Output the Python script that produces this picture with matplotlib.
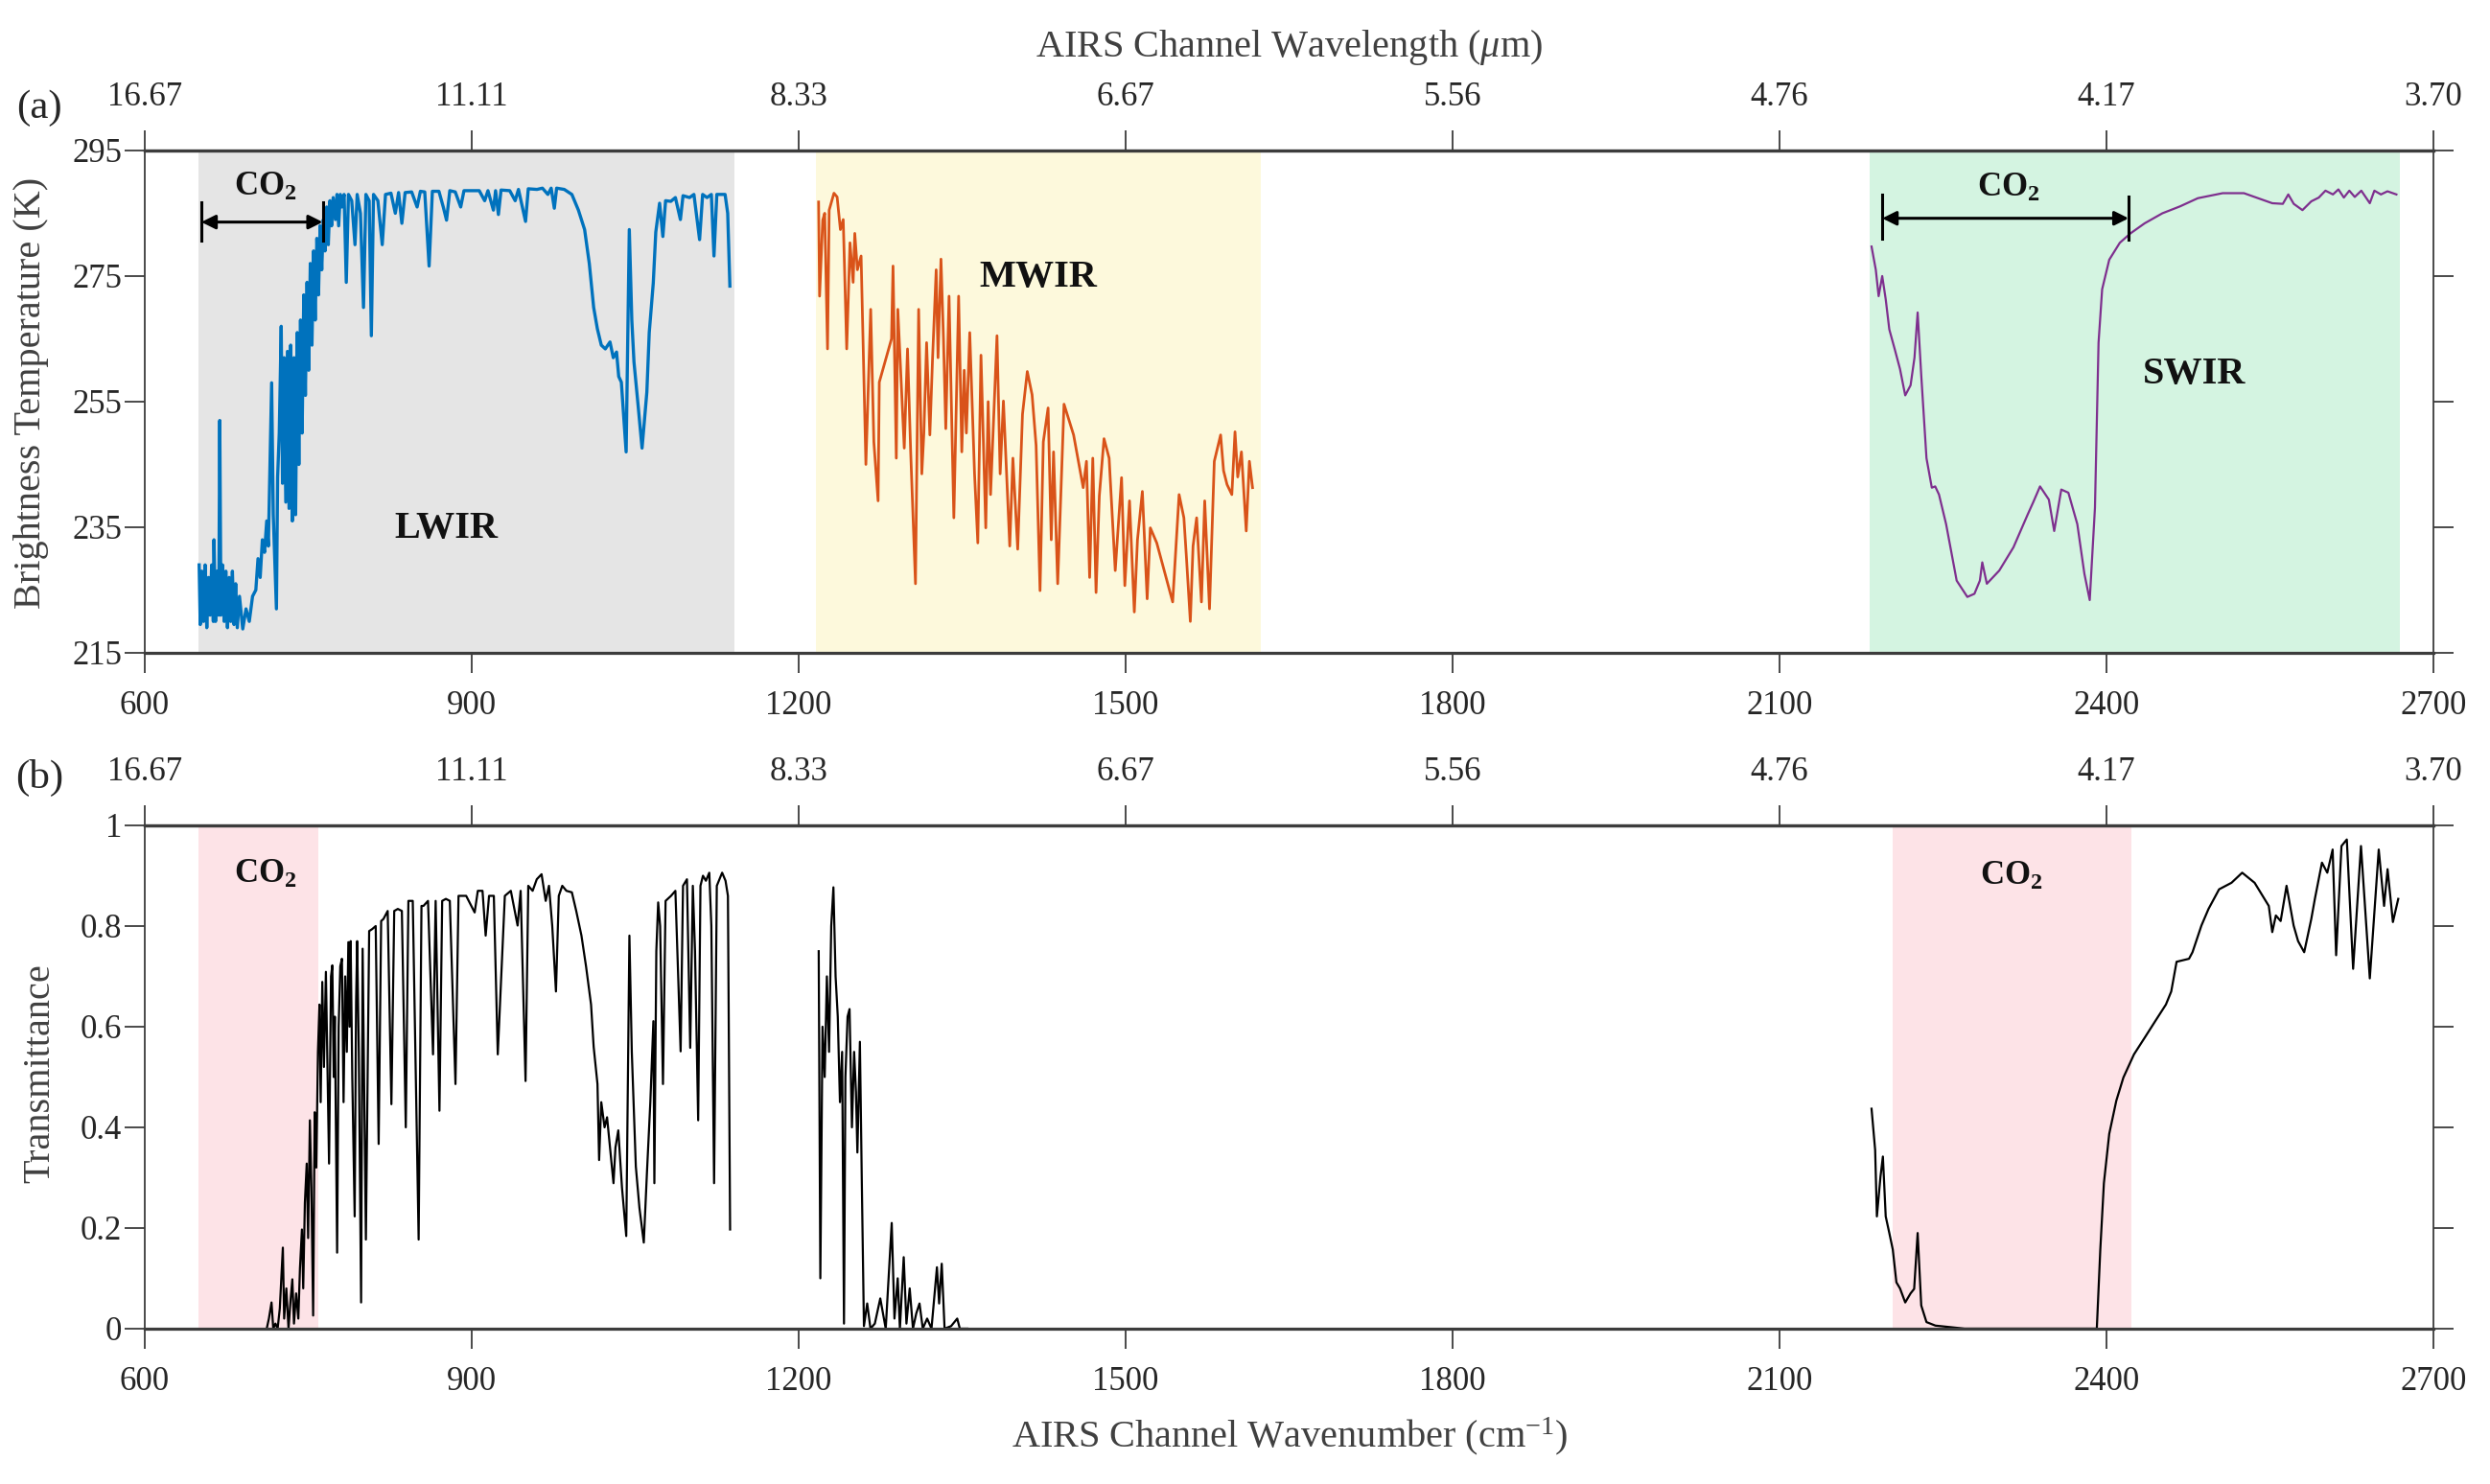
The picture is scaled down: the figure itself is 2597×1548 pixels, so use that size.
import matplotlib.pyplot as plt
import numpy as np

plt.rcParams['font.family'] = ['Liberation Serif', 'DejaVu Serif']
plt.rcParams['mathtext.fontset'] = 'custom'
plt.rcParams['mathtext.rm'] = 'Liberation Serif'
plt.rcParams['mathtext.it'] = 'Liberation Serif:italic'
plt.rcParams['mathtext.bf'] = 'Liberation Serif:bold'

# ---- data ----
# (a) brightness temperature, LWIR / MWIR / SWIR
lwir_wn = [650, 651, 652.5, 654, 655.5, 657, 658.5, 660, 661.5, 663, 663.6, 665, 666.5, 668, 668.9, 670,
           671.5, 673, 674.5, 676, 677.5, 679, 680.5, 682, 683.5, 685, 687, 690, 693, 696, 699, 702, 704,
           706, 708, 710, 712, 713.5, 716.5, 718, 720.9, 722, 723.5, 725.3, 726.5, 728, 729.5, 731, 732.5,
           734, 735.5, 737, 738.5, 740, 741.5, 743, 744.5, 746, 747.5, 749, 750.5, 752, 753.5, 755, 756.5,
           758, 759.5, 761, 762.5, 764, 765.5, 767, 768.5, 770, 771.5, 773, 775, 776.5, 778, 779.5, 781,
           783, 785, 787, 790, 793, 795, 798, 800.8, 803, 806, 808, 810, 814, 818, 821, 826, 830, 833,
           836, 839, 845, 850, 853, 857, 861, 864, 870, 874, 877, 880, 885, 890, 893, 900, 907, 912, 915,
           920, 922, 924.6, 927, 935, 940, 943, 949.5, 952, 960, 965, 970, 973, 975.9, 978, 985, 992, 998,
           1003.7, 1008, 1012, 1015.4, 1019, 1022.7, 1027, 1030, 1033, 1035, 1037.4, 1041.8, 1044.7, 1047,
           1049, 1053, 1056.4, 1060.8, 1063, 1066.7, 1069, 1072.5, 1075.5, 1078, 1082.8, 1087, 1091.6, 1094,
           1100, 1104, 1109.2, 1112, 1116, 1120, 1122.4, 1125, 1130, 1132.6, 1135, 1137]
lwir_bt = [229, 219.5, 228, 220, 229, 219, 227, 221, 229, 220, 233, 220, 228, 221, 252, 221,
           229, 220, 228, 219, 227, 220, 228, 219.5, 226, 219, 224, 218.8, 222, 220, 224, 225, 230,
           227, 233, 231, 236, 232, 258, 237, 222, 243, 250, 267, 242, 262, 239, 263, 238,
           264, 236, 262, 237, 266, 245, 268, 250, 272, 256, 274, 260, 277, 264, 279, 268,
           281, 272, 283, 276, 284, 279, 286, 280, 287, 283, 287.5, 284, 288, 283, 288, 286,
           288, 274, 288, 287, 280, 288, 285, 270, 288, 287, 265.5, 288, 287, 280, 288, 288.2, 285, 288.3,
           283.4, 288.3, 288.4, 286, 288.5, 288.4, 276.6, 288.5, 288.5, 286, 283.9, 288.6, 288.4, 286, 288.6, 288.6, 288.6, 287, 288.6,
           285.5, 288.6, 284.8, 288.7, 288.6, 287, 288.8, 283.7, 288.9, 288.8, 289, 288, 289, 285.8, 289, 288.8, 288, 285.5,
           282.4, 277, 270, 266.6, 264, 263.4, 264.5, 262, 262.9, 259, 258.1, 247, 282.4, 268,
           261.3, 254, 247.6, 256.5, 266, 273.9, 282, 286.6, 281.3, 287, 286.9, 287.5, 284, 287.8,
           287.5, 288, 280.8, 288, 287.5, 288, 278.2, 288, 288, 288, 285, 273.4]

mwir_wn = [1218.4, 1219.3, 1222.2, 1224, 1226.6, 1228.1, 1232.5, 1235.4, 1238.4, 1241, 1244.2, 1247.2,
           1250.1, 1251.6, 1254, 1257.4, 1261.8, 1266.2, 1269.1, 1273, 1274.1, 1285.3, 1286.7, 1289.7,
           1291.1, 1297, 1300, 1302.9, 1307.3, 1310.2, 1313.1, 1315, 1317.5, 1320.5, 1323, 1326.3, 1328,
           1330.7, 1333, 1335.1, 1338.1, 1342.5, 1346.9, 1349.8, 1352, 1354, 1357.1, 1361.5, 1364.5, 1367.4,
           1371.8, 1374, 1376.2, 1382.1, 1385, 1388, 1393.8, 1396.7, 1401.1, 1405.5, 1409.9, 1414.3, 1418,
           1421.6, 1424.6, 1429, 1431.9, 1434, 1437.8, 1443.6, 1452.4, 1461.2, 1464.2, 1467.1, 1470, 1473,
           1476, 1480.3, 1485, 1490.6, 1496.4, 1499.4, 1503.7, 1508.1, 1511, 1515.5, 1519.9, 1522.8, 1528.7,
           1543.3, 1549.2, 1553.6, 1556, 1559.5, 1562, 1565.3, 1569.7, 1572.7, 1577.1, 1581.5, 1587.3, 1590,
           1593.2, 1597.6, 1600.5, 1603, 1606.4, 1610.8, 1613.7, 1616.6]
mwir_bt = [286.8, 271.8, 283.9, 285, 263.4, 285.5, 288.2, 287.6, 282.4, 284, 263.4, 280.3,
           274.0, 281.8, 276, 278.2, 245.0, 269.7, 248.6, 239.2, 258.1, 265.0, 276.6, 246.0,
           269.7, 247.6, 263.4, 247.0, 226.0, 269.7, 243.5, 250, 264.4, 249.7, 262, 276.0, 262,
           277.7, 265, 250.7, 271.8, 236.5, 271.8, 247.0, 260, 250, 266.0, 243.5, 232.5, 262.4,
           234.9, 255, 240.2, 265.5, 243.5, 255.1, 232.0, 246.0, 231.5, 253.0, 259.8, 256.1, 248,
           224.9, 248.6, 254.0, 233.0, 247, 226.0, 254.6, 249.7, 241.3, 245.5, 227.0, 246.0, 224.6,
           240, 249.1, 246, 228.1, 242.9, 225.7, 239.2, 221.5, 233, 240.7, 223.6, 234.9, 232.5,
           223.1, 240.2, 236.5, 230, 220.0, 232, 236.5, 223.1, 239.2, 222.0, 245.5, 249.7, 244,
           241.8, 240.2, 250.2, 243, 247.0, 234.4, 245.5, 241.3]

swir_wn = [2184.6, 2188.5, 2191.1, 2194.4, 2197.6, 2200.9, 2205.8, 2210.7, 2215.5, 2220.4, 2224, 2226.9,
           2230.2, 2235.0, 2239.9, 2243, 2246.5, 2253.0, 2262.7, 2272.5, 2279.0, 2284, 2286.2, 2290.4,
           2301.8, 2314.8, 2327.8, 2333, 2339.2, 2347.3, 2352.2, 2358.7, 2365.2, 2373.4, 2379.9, 2384.8,
           2389.6, 2392.9, 2396.2, 2402.7, 2412.4, 2422.2, 2435.2, 2451.5, 2467.7, 2484.0, 2506.8, 2526.3,
           2539.3, 2552.3, 2562, 2567.0, 2572, 2580.0, 2588.1, 2595, 2601.1, 2608, 2613, 2618, 2623, 2628,
           2634, 2641.8, 2646, 2652, 2658, 2666.2]
swir_bt = [279.7, 276.0, 271.8, 275.0, 271.3, 266.5, 263.4, 260.2, 256.0, 257.6, 262, 269.2,
           259.2, 246.0, 241.3, 241.5, 240.2, 235.5, 226.5, 223.9, 224.4, 226.5, 229.4, 226.0,
           228.1, 231.8, 237.0, 239, 241.5, 239.4, 234.4, 241.0, 240.5, 235.5, 227.6, 223.4,
           238.1, 264.4, 272.9, 277.6, 280.3, 281.8, 283.4, 285.0, 286.1, 287.4, 288.2, 288.2,
           287.4, 286.6, 286.5, 288.0, 286.5, 285.5, 286.9, 287.5, 288.6, 288.0, 288.8, 287.5, 288.6, 287.6,
           288.6, 286.6, 288.6, 288.0, 288.5, 288.0]

# (b) transmittance, three pieces
tau_lw_wn = [712, 714, 716.4, 718, 720, 722, 724, 726.8, 728, 730, 732, 734, 735.5, 737, 739, 741, 742.5,
             744.3, 745.5, 747, 748.7, 750, 751.6, 753, 754.6, 756, 757.5, 759, 760.4, 761.5, 763, 764.5,
             766.3, 767.5, 769.2, 771, 772.2, 773.5, 774.5, 776.6, 778, 779.5, 781, 782.5, 784, 785.5, 786.9,
             788, 789, 790.5, 792.7, 794, 795, 796.5, 798.6, 800, 803, 806, 808.8, 812, 814.7, 817, 819.1,
             823, 826.4, 829, 832.3, 836, 839.6, 842, 846, 848, 851.4, 854, 855.8, 860, 864.6, 867, 870.5,
             873, 876.4, 880, 885.2, 888, 895, 902.8, 905.7, 910, 912.9, 916, 920.4, 924, 930.5, 936, 942.2,
             945, 949.5, 952, 956, 959.8, 964.2, 968, 971, 974, 977.4, 980, 983.2, 987, 992, 996, 1000.8,
             1005, 1009.6, 1012, 1015.5, 1017, 1019, 1022, 1024.3, 1027, 1030.2, 1032, 1034.6, 1038, 1041.9,
             1044.8, 1047, 1050.7, 1054, 1058, 1061, 1064, 1066.8, 1067.7, 1069.5, 1071.2, 1073, 1075.6, 1078,
             1083, 1087, 1091.8, 1094, 1097.6, 1100.6, 1103, 1105, 1107.9, 1110, 1112.3, 1115, 1118.1, 1120,
             1122.5, 1125, 1129.9, 1133, 1135.2, 1137.2]
tau_lw = [0.0, 0.02, 0.052, 0.0, 0.01, 0.0, 0.04, 0.161, 0.02, 0.08, 0.0, 0.06, 0.098, 0.01, 0.07, 0.02, 0.12,
          0.197, 0.08, 0.25, 0.328, 0.18, 0.414, 0.28, 0.026, 0.43, 0.32, 0.55, 0.644, 0.45, 0.689, 0.52,
          0.709, 0.55, 0.328, 0.70, 0.722, 0.50, 0.62, 0.151, 0.60, 0.72, 0.735, 0.45, 0.70, 0.55, 0.768,
          0.60, 0.77, 0.50, 0.223, 0.65, 0.77, 0.55, 0.052, 0.755, 0.177, 0.79, 0.794, 0.80, 0.367, 0.81, 0.814,
          0.83, 0.446, 0.83, 0.834, 0.83, 0.400, 0.85, 0.85, 0.60, 0.177, 0.84, 0.840, 0.85, 0.545, 0.85, 0.433,
          0.85, 0.854, 0.85, 0.486, 0.86, 0.86, 0.827, 0.870, 0.87, 0.781, 0.86, 0.860, 0.545, 0.860, 0.87, 0.801,
          0.87, 0.492, 0.88, 0.87, 0.893, 0.903, 0.85, 0.88, 0.80, 0.670, 0.86, 0.880, 0.87, 0.867, 0.83, 0.781,
          0.72, 0.644, 0.56, 0.486, 0.335, 0.45, 0.40, 0.420, 0.36, 0.289, 0.36, 0.394, 0.28, 0.184,
          0.781, 0.55, 0.322, 0.24, 0.171, 0.315, 0.45, 0.611, 0.289, 0.75, 0.847, 0.80, 0.486, 0.85,
          0.860, 0.87, 0.551, 0.88, 0.893, 0.558, 0.88, 0.75, 0.414, 0.88, 0.900, 0.89, 0.906, 0.80,
          0.289, 0.88, 0.906, 0.89, 0.860, 0.197]

tau_mw_wn = [1218.5, 1220, 1222, 1224, 1226, 1228, 1230, 1232, 1234, 1236, 1238, 1240, 1241.7, 1243, 1245,
             1246.8, 1249, 1251, 1252.7, 1254, 1256.3, 1258, 1260, 1263, 1266, 1270, 1275, 1280, 1285.5, 1288,
             1291, 1293, 1296.5, 1299, 1302, 1305, 1308, 1311, 1314, 1318, 1322, 1327, 1329, 1331.4, 1334,
             1340, 1345.6, 1348, 1355]
tau_mw = [0.75, 0.10, 0.60, 0.50, 0.70, 0.55, 0.80, 0.877, 0.70, 0.62, 0.45, 0.55, 0.01, 0.50, 0.62,
          0.635, 0.40, 0.55, 0.47, 0.35, 0.57, 0.30, 0.005, 0.05, 0.0, 0.01, 0.06, 0.0, 0.21, 0.02,
          0.10, 0.0, 0.142, 0.01, 0.08, 0.0, 0.03, 0.05, 0.0, 0.02, 0.0, 0.122, 0.05, 0.129, 0.0,
          0.005, 0.02, 0.0, 0.0]

tau_sw_wn = [2184.6, 2187.9, 2189.5, 2192.8, 2195, 2197.6, 2200.9, 2204.1, 2207.4, 2210.7, 2215.5, 2220.4,
             2223.7, 2226.9, 2230.2, 2235, 2243.2, 2270, 2330, 2391.3, 2394.5, 2397.8, 2402.7, 2409.2,
             2415.7, 2425.4, 2435.2, 2444.9, 2454.7, 2459.6, 2464.5, 2475.9, 2479.1, 2487.3, 2493.8, 2503.5,
             2514.9, 2524.7, 2536.1, 2549.1, 2552.3, 2555.6, 2560, 2565.4, 2571.9, 2576, 2581.6, 2588.1,
             2591.4, 2597.9, 2602.8, 2607.7, 2610.9, 2615.8, 2620.7, 2626.5, 2633.7, 2641.8, 2650, 2654.9,
             2658.1, 2663, 2667.9]
tau_sw = [0.437, 0.355, 0.223, 0.302, 0.342, 0.223, 0.190, 0.157, 0.092, 0.08, 0.052, 0.07,
          0.079, 0.190, 0.046, 0.013, 0.006, 0.0, 0.0, 0.0, 0.157, 0.289, 0.387, 0.453,
          0.499, 0.545, 0.578, 0.611, 0.644, 0.670, 0.729, 0.735, 0.748, 0.801, 0.834, 0.873,
          0.886, 0.906, 0.886, 0.840, 0.788, 0.821, 0.81, 0.880, 0.801, 0.77, 0.748, 0.814,
          0.854, 0.926, 0.906, 0.952, 0.742, 0.959, 0.972, 0.715, 0.959, 0.696, 0.952, 0.840,
          0.913, 0.808, 0.854]

# shaded bands (wavenumber ranges)
bands_a = [(649, 1141, '#e5e5e5'), (1216, 1624, '#fdf9dc'), (2183, 2669, '#d4f4e1')]
bands_b = [(649, 759), (2204, 2423)]

xticks = [600, 900, 1200, 1500, 1800, 2100, 2400, 2700]
bt_ticks = [215, 235, 255, 275, 295]
tau_ticks = [0, 0.2, 0.4, 0.6, 0.8, 1]
tau_labels = ['0', '0.2', '0.4', '0.6', '0.8', '1']

BLUE, ORANGE, PURPLE = '#0072BD', '#D95319', '#7E2F8E'
AXC = '#3c3c3c'
TXT = '#262626'

fig = plt.figure(figsize=(25.97, 15.48), dpi=100)
ax1 = fig.add_axes([0.0581, 0.5601, 0.9191, 0.3385])
ax2 = fig.add_axes([0.0581, 0.1047, 0.9191, 0.3391])


def style(ax, yt, ylab):
    ax.set_xlim(600, 2700)
    ax.set_xticks(xticks)
    ax.set_yticks(yt)
    if ylab is not None:
        ax.set_yticklabels(ylab)
    for s in ['top', 'bottom']:
        ax.spines[s].set_linewidth(2.3)
        ax.spines[s].set_color(AXC)
    for s in ['left', 'right']:
        ax.spines[s].set_linewidth(1.3)
        ax.spines[s].set_color(AXC)
    ax.tick_params(axis='both', direction='out', length=15, width=1.3, color=AXC,
                   labelcolor=TXT, labelsize=25, right=True, labelright=False)
    ax.tick_params(axis='x', pad=13)
    ax.tick_params(axis='y', pad=2)
    sec = ax.secondary_xaxis('top')
    sec.set_xticks(xticks, [f'{1e4 / w:.2f}' for w in xticks])
    sec.tick_params(direction='out', length=15, width=1.3, color=AXC,
                    labelcolor=TXT, labelsize=25, pad=13)
    sec.spines['top'].set_linewidth(2.3)
    sec.spines['top'].set_color(AXC)


# ---- panel (a) ----
for lo, hi, c in bands_a:
    ax1.axvspan(lo, hi, color=c, lw=0, zorder=0)
ax1.plot(lwir_wn, lwir_bt, color=BLUE, lw=2.4)
ax1.plot(mwir_wn, mwir_bt, color=ORANGE, lw=2.0)
ax1.plot(swir_wn, swir_bt, color=PURPLE, lw=1.6)
ax1.set_ylim(215, 295)
style(ax1, bt_ticks, None)

bold = dict(fontsize=29, fontweight='bold', ha='center', va='center', color='#111111')
ax1.text(877, 234.7, 'LWIR', **bold)
ax1.text(1420, 274.7, 'MWIR', **bold)
ax1.text(2481, 259.4, 'SWIR', **bold)
co2 = dict(fontsize=25, ha='center', va='center', color='#111111')
ax1.text(711, 289.2, r'$\mathbf{CO_2}$', **co2)
ax1.text(2310, 289.0, r'$\mathbf{CO_2}$', **co2)

arw = dict(arrowstyle='<|-|>', color='black', lw=2.2, mutation_scale=22, shrinkA=0, shrinkB=0)
ax1.annotate('', xy=(652, 283.6), xytext=(763.4, 283.6), arrowprops=arw)
ax1.plot([652, 652], [280.6, 286.7], color='black', lw=2.2)
ax1.plot([763.4, 763.4], [280.6, 286.7], color='black', lw=2.2)
ax1.annotate('', xy=(2194.4, 284.2), xytext=(2420.5, 284.2), arrowprops=arw)
ax1.plot([2194.4, 2194.4], [281.0, 288.0], color='black', lw=2.2)
ax1.plot([2420.5, 2420.5], [280.8, 287.6], color='black', lw=2.2)

# ---- panel (b) ----
for lo, hi in bands_b:
    ax2.axvspan(lo, hi, color='#fde3e7', lw=0, zorder=0)
ax2.plot(tau_lw_wn, tau_lw, color='black', lw=1.6)
ax2.plot(tau_mw_wn, tau_mw, color='black', lw=1.6)
ax2.plot(tau_sw_wn, tau_sw, color='black', lw=1.6)
ax2.set_ylim(0, 1)
style(ax2, tau_ticks, tau_labels)
ax2.text(711, 0.903, r'$\mathbf{CO_2}$', **co2)
ax2.text(2313, 0.898, r'$\mathbf{CO_2}$', **co2)

# ---- labels ----
lab = dict(fontsize=29, color='#404040', ha='center', va='center')
fig.text(0.5179, 0.968, r'AIRS Channel Wavelength ($\mu$m)', **lab)
fig.text(0.5179, 0.032, r'AIRS Channel Wavenumber (cm$^{-1}$)', **lab)
fig.text(0.0127, 0.735, 'Brightness Temperature (K)', rotation=90, **lab)
fig.text(0.0160, 0.277, 'Transmittance', rotation=90, **lab)
fig.text(0.0158, 0.927, '(a)', fontsize=31, color=TXT, ha='center', va='center')
fig.text(0.0158, 0.476, '(b)', fontsize=31, color=TXT, ha='center', va='center')

fig.savefig('out.png', dpi=100)
